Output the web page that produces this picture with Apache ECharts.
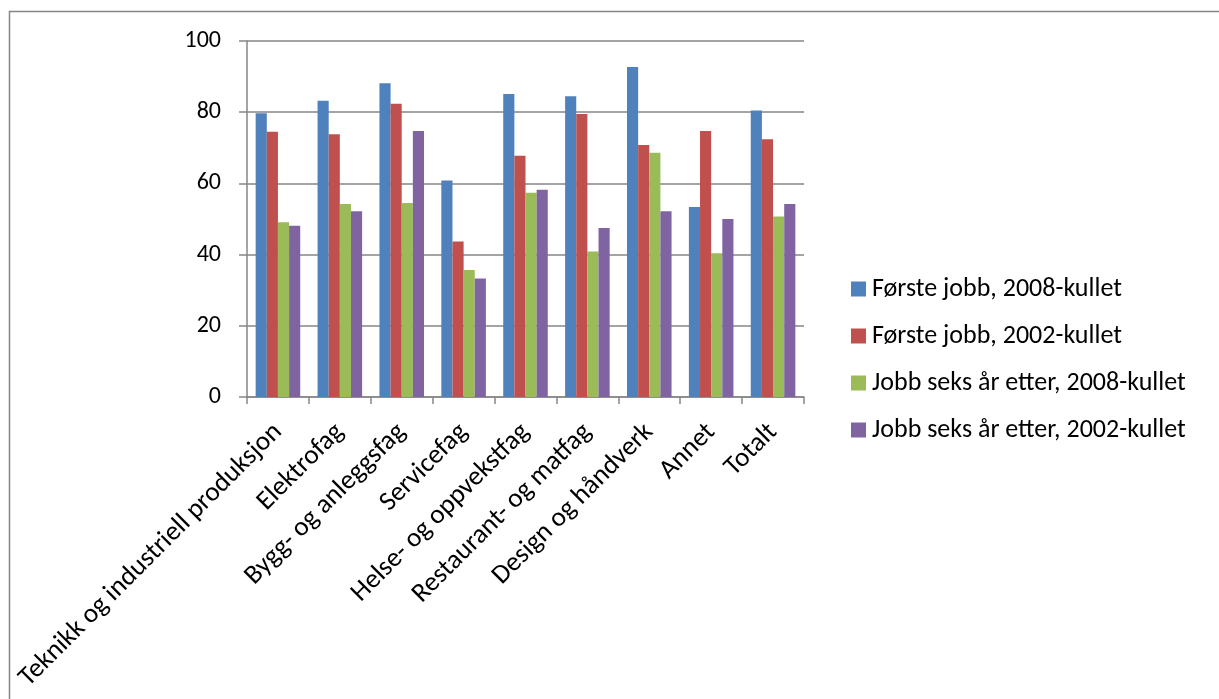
<!DOCTYPE html>
<html>
<head>
<meta charset="utf-8">
<script src="https://cdn.jsdelivr.net/npm/echarts@6/dist/echarts.min.js"></script>
<style>
  html, body { margin: 0; padding: 0; background: #fff; }
  #chart { width: 1219px; height: 699px; }
</style>
</head>
<body>
<div id="chart"></div>
<script>
// Andel i jobb etter utdanningsprogram (prosent)
const categories = [
  'Teknikk og industriell produksjon',
  'Elektrofag',
  'Bygg- og anleggsfag',
  'Servicefag',
  'Helse- og oppvekstfag',
  'Restaurant- og matfag',
  'Design og håndverk',
  'Annet',
  'Totalt'
];
const forsteJobb2008 = [79.7, 83.2, 88.1, 60.8, 85.1, 84.5, 92.7, 53.4, 80.5];
const forsteJobb2002 = [74.5, 73.8, 82.4, 43.7, 67.8, 79.5, 70.8, 74.7, 72.4];
const seksAar2008    = [49.1, 54.2, 54.5, 35.7, 57.4, 40.9, 68.6, 40.4, 50.7];
const seksAar2002    = [48.1, 52.2, 74.7, 33.3, 58.2, 47.5, 52.2, 50.0, 54.2];
const seriesNames = [
  'Første jobb, 2008-kullet',
  'Første jobb, 2002-kullet',
  'Jobb seks år etter, 2008-kullet',
  'Jobb seks år etter, 2002-kullet'
];
const yTicks = [0, 20, 40, 60, 80, 100];

const colors = ['#4f81bd', '#c0504d', '#9bbb59', '#8064a2'];
const FONT = 'Carlito, Lato, "Open Sans", sans-serif';
const axisGray = '#868686';

const chart = echarts.init(document.getElementById('chart'));
const seriesData = [forsteJobb2008, forsteJobb2002, seksAar2008, seksAar2002];

chart.setOption({
  animation: false,
  color: colors,
  graphic: [{
    type: 'rect',
    shape: { x: 9.5, y: 11.5, width: 1230, height: 710 },
    style: { fill: 'none', stroke: axisGray, lineWidth: 1.5 },
    silent: true
  }],
  grid: { left: 247, right: 415, top: 41, bottom: 302, containLabel: false },
  legend: {
    orient: 'vertical',
    left: 846,
    top: 271,
    itemWidth: 15,
    itemHeight: 15,
    itemGap: 21,
    icon: 'rect',
    textStyle: { fontFamily: FONT, fontSize: 26, lineHeight: 26, color: '#000', padding: [0, 0, 0, 1] },
    data: seriesNames
  },
  xAxis: {
    type: 'category',
    data: categories,
    axisLine: { lineStyle: { color: axisGray, width: 1.5 } },
    axisTick: { show: true, length: 7, alignWithLabel: false, lineStyle: { color: axisGray, width: 1.5 } },
    axisLabel: {
      rotate: 45,
      interval: 0,
      margin: 31,
      fontFamily: FONT,
      fontSize: 27,
      color: '#000'
    }
  },
  yAxis: {
    type: 'value',
    min: yTicks[0],
    max: yTicks[yTicks.length - 1],
    interval: 20,
    axisLine: { show: true, lineStyle: { color: axisGray, width: 1.5 } },
    axisTick: { show: true, length: 8, lineStyle: { color: axisGray, width: 1.5 } },
    axisLabel: { fontFamily: FONT, fontSize: 24, color: '#000', margin: 26 },
    splitLine: { lineStyle: { color: axisGray, width: 1.5 } }
  },
  series: seriesNames.map((name, i) => ({
    name,
    type: 'bar',
    data: seriesData[i],
    barGap: '0%',
    barCategoryGap: '28%',
    itemStyle: { color: colors[i] }
  }))
});
</script>
</body>
</html>
